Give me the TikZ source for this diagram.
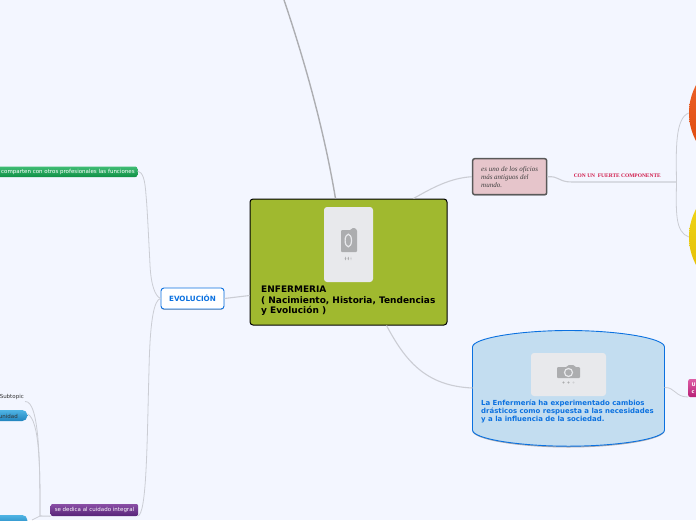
\documentclass[tikz,border=0pt]{standalone}
\usepackage{fontspec}
\setmainfont{DejaVu Sans}
\newfontfamily\serifb{Liberation Serif}
\usetikzlibrary{shadows,calc}
\definecolor{bgc}{HTML}{F3F6FF}
\definecolor{olive}{HTML}{A0B92F}
\definecolor{ph}{HTML}{E8E9EC}
\definecolor{phd}{HTML}{ACADAF}
\definecolor{lineg}{HTML}{CBCDD4}
\definecolor{lined}{HTML}{ADAEB2}
\definecolor{bluet}{HTML}{0B71E0}
\definecolor{cyl}{HTML}{C3DDF0}
\definecolor{rose}{HTML}{E6C5CB}
\definecolor{crim}{HTML}{D01A4A}
\definecolor{grnT}{HTML}{3FBC74}
\definecolor{grnB}{HTML}{0E8F45}
\definecolor{purT}{HTML}{8A4FA6}
\definecolor{purB}{HTML}{572478}
\definecolor{bluT}{HTML}{4FB4E4}
\definecolor{bluB}{HTML}{2184BE}
\definecolor{pinT}{HTML}{DE5FA6}
\definecolor{pinB}{HTML}{B81F75}
\definecolor{oraT}{HTML}{F06A30}
\definecolor{oraB}{HTML}{DB4205}
\definecolor{yelT}{HTML}{F2DC1E}
\definecolor{yelB}{HTML}{E2B800}
\tikzset{
 x=1pt,y=-1pt,
 conn/.style={draw=lineg,line width=.8pt},
 connm/.style={draw=lineg,line width=1.1pt},
 connd/.style={draw=lined,line width=1.4pt},
 box/.style={inner sep=0pt,rounded corners=2pt},
 softshadow/.style={drop shadow={shadow xshift=0pt,shadow yshift=-.8pt,opacity=.3,fill=black}},
 lab/.style={inner sep=0pt,align=left,anchor=west},
 smalltext/.style={inner sep=0pt,font=\fontsize{5.5}{6}\selectfont},
 phbox/.style={fill=ph,rounded corners=3pt,draw=none,inner sep=0pt},
 grnbox/.style={box,top color=grnT,bottom color=grnB},
 purbox/.style={box,top color=purT,bottom color=purB},
 blubox/.style={box,rounded corners=5pt,top color=bluT,bottom color=bluB},
}
\begin{document}
\begin{tikzpicture}
\useasboundingbox (0,0) rectangle (696,520);
\fill[bgc] (0,0) rectangle (696,520);
\begin{scope}
\clip (0,0) rectangle (696,520);
% --- nodes
\node[box,rounded corners=3pt,minimum width=197pt,minimum height=126pt,draw=black,line width=1pt,fill=olive] (main) at (348.5,262) {};
\node[box,rounded corners=3pt,minimum width=63pt,minimum height=21pt,draw=bluet,line width=.9pt,fill=white,softshadow,text=bluet,font=\bfseries\fontsize{7.2}{8}\selectfont] (evo) at (192.5,298.5) {EVOLUCIÓN};
\node[grnbox,minimum width=160pt,minimum height=10.5pt,anchor=east] (green) at (137.5,171.8) {};
\node[smalltext,text=white,anchor=west] at (1,172) {comparten con otros profesionales las funciones};
\node[purbox,smalltext,minimum width=87.5pt,minimum height=12pt,anchor=west,text=white] (purple) at (50.5,510) {se dedica al cuidado integral};
\node[smalltext,anchor=east,text=black!80] (subt) at (24,396.5) {Subtopic};
\node[blubox,minimum width=50pt,minimum height=11pt,anchor=east] (blue1) at (27.5,415.5) {};
\node[smalltext,anchor=east,text=black!80] at (18,416) {unidad};
\node[blubox,minimum width=50pt,minimum height=11pt,anchor=east] (blue2) at (27.5,520.5) {};
\node[box,minimum height=36pt,minimum width=74pt,fill=rose,draw=black!65,line width=1.5pt,softshadow] (rosebox) at (509.7,176.7) {};
\node[lab,text=black!75,font=\serifb\itshape\fontsize{7}{8}\selectfont] at (481,177) {es uno de los oficios\\[-.1pt]más antiguos del\\[-.1pt]mundo.};
\node[inner sep=0pt,anchor=center,text=crim,font=\serifb\bfseries\fontsize{5.45}{6}\selectfont] (comp) at (617.3,176) {CON UN\ \ FUERTE COMPONENTE};
\node[box,minimum width=20pt,minimum height=18pt,anchor=west,top color=pinT,bottom color=pinB] (pink) at (688,388) {};
\node[inner sep=0pt,anchor=west,text=white,font=\bfseries\fontsize{5}{6}\selectfont] at (691.5,384.5) {U};
\node[inner sep=0pt,anchor=west,text=white,font=\bfseries\fontsize{5}{6}\selectfont] at (691.5,392) {c};
% right circles
\node[circle,minimum size=118pt,inner sep=0pt,top color=oraT,bottom color=oraB] (orange) at (748,113) {};
\node[circle,minimum size=118pt,inner sep=0pt,top color=yelT,bottom color=yelB] (yellow) at (748,237) {};
% cylinder
\path[fill=black,opacity=.3] (472.5,348) .. controls (472.5,340) and (520,331) .. (568.5,331) .. controls (617,331) and (664.5,340) .. (664.5,348) -- (664.5,431) .. controls (664.5,440) and (617,447.5) .. (568.5,447.5) .. controls (520,447.5) and (472.5,440) .. (472.5,431) -- cycle;
\path[fill=cyl,draw=bluet,line width=.9pt] (472.5,347) .. controls (472.5,338) and (520,330.5) .. (568.5,330.5) .. controls (617,330.5) and (664.5,338) .. (664.5,347) -- (664.5,430) .. controls (664.5,439) and (617,446.2) .. (568.5,446.2) .. controls (520,446.2) and (472.5,439) .. (472.5,430) -- cycle;
\node[inner sep=0pt,minimum width=192pt,minimum height=116pt] (cyln) at (568.5,388.4) {};
\node[lab,text=bluet,font=\bfseries\fontsize{6.95}{8.25}\selectfont] at (481,411.5) {La Enfermería ha experimentado cambios\\drásticos como respuesta a las necesidades\\y a la influencia de la sociedad.};
% placeholder in cylinder
\node[phbox,minimum width=75pt,minimum height=43pt] (ph2) at (568.5,374.5) {};
\fill[phd,rounded corners=1pt] (557,367) -- (567,367) -- (568,365) -- (574,365) -- (575,367) -- (580,367) -- (580,378) -- (557,378) -- cycle;
\draw[ph,line width=1.2pt] (568.5,372.5) circle[radius=4];
\fill[phd] (563.5,382.5) circle[radius=1.2] (568.5,382.5) circle[radius=1.2];
\fill[phd!40!ph] (573.5,382.5) circle[radius=1.2];
% placeholder in main
\node[phbox,minimum width=49pt,minimum height=75pt] (ph1) at (348.5,244.5) {};
\fill[phd,rounded corners=1pt] (341,230) -- (351,230) -- (352,228) -- (355,228) -- (357,230) -- (357,252) -- (341,252) -- cycle;
\draw[ph,line width=1.2pt] (348.3,240.5) ellipse[x radius=3.2,y radius=6.3];
\fill[phd] (345.5,258.5) ellipse[x radius=.8,y radius=1.8] (348.3,258.5) ellipse[x radius=.8,y radius=1.8];
\fill[phd!40!ph] (351,258.5) ellipse[x radius=.8,y radius=1.8];
\node[lab,text=black,font=\bfseries\fontsize{9}{10.7}\selectfont] at (261,300.8) {ENFERMERIA\\( Nacimiento, Historia, Tendencias\\y Evolución )};
% --- connectors
\coordinate (top) at (284,0);
\coordinate (fork) at (40,516);
\coordinate (forkR) at (676.5,182);
\draw[connd] (top) .. controls (305,62) and (324,130) .. ($(main.north west)+(86,0)$);
\draw[connm] ($(main.north west)+(164,0)$) .. controls (432,188) and (450,178) .. (rosebox.west);
\draw[connm] (rosebox.east) .. controls (560,176) and (558,182) .. (572,182) -- (forkR);
\draw[conn] (forkR) .. controls (676,150) and (675,118) .. (orange.west);
\draw[conn] (forkR) .. controls (676,212) and (675,232) .. (yellow.west);
\draw[connm] ($(main.south west)+(137,0)$) .. controls (405,360) and (425,386) .. (472.5,388);
\draw[conn] (664.5,387.5) .. controls (675,387) and (675,397) .. (688,397);
\draw[connm] ($(main.south west)+(0,-30)$) -- (evo.east);
\draw[conn] (evo.west) .. controls (155,296) and (151,285) .. (150,265) .. controls (148,225) and (147,205) .. (146,195) .. controls (145,180) and (143,172) .. (137.5,171);
\draw[conn] (evo.west) .. controls (154,300) and (150,320) .. (149,370) .. controls (147,440) and (147,516) .. (137.5,516);
\draw[connm] (purple.south west) -- (fork);
\draw[conn] (fork) .. controls (40,470) and (40,400) .. (25,401.5);
\draw[conn] (fork) .. controls (40,470) and (40,420) .. (27.5,414);
\draw[conn] (fork) -- (32,520);
\end{scope}
\end{tikzpicture}
\end{document}
